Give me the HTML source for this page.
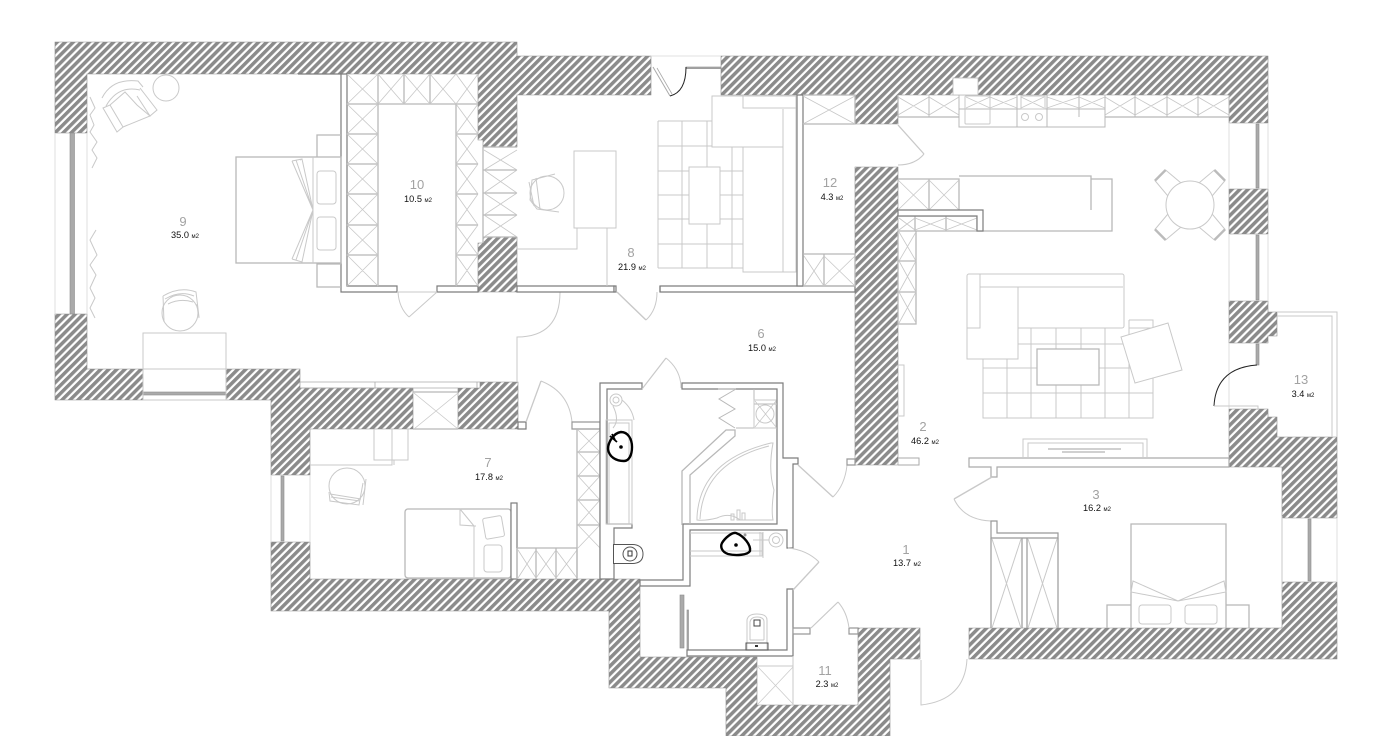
<!DOCTYPE html>
<html lang="ru"><head><meta charset="utf-8"><title>План квартиры</title>
<style>
html,body{margin:0;padding:0;background:#fff}
svg{display:block}
.h{fill:url(#hatch);stroke:#8c8c8c;stroke-width:.6}
.d{fill:#fff;stroke:#7d7d7d;stroke-width:1.2}
.dn{fill:none;stroke:#7d7d7d;stroke-width:1.2}
.f{fill:none;stroke:#c9c9c9;stroke-width:1}
.fw{fill:#fff;stroke:#c9c9c9;stroke-width:1}
.m{fill:none;stroke:#b8b8b8;stroke-width:1.3}
.t{fill:none;stroke:#d8d8d8;stroke-width:.8}
.g{fill:#aaa;stroke:#8c8c8c;stroke-width:.6}
.k{fill:none;stroke:#000;stroke-width:2.4}
.n{font:13px "Liberation Sans",sans-serif;fill:#a2a2a2;text-anchor:middle}
.a{font:9.2px "Liberation Sans",sans-serif;fill:#111;text-anchor:middle}
.a tspan{font-size:6px}
</style></head><body>
<svg width="1400" height="736" viewBox="0 0 1400 736" xmlns="http://www.w3.org/2000/svg">
<defs><pattern id="hatch" width="5.7" height="5.7" patternUnits="userSpaceOnUse" patternTransform="rotate(45)"><rect width="5.7" height="5.7" fill="#fff"/><rect width="3.5" height="5.7" fill="#8b8b8b"/></pattern></defs>
<rect width="1400" height="736" fill="#fff"/>

<!-- hatched walls -->
<path class="h" d="M55 42H517V56H651V95H517V147H483V140H478V74H87V133H55Z"/>
<path class="h" d="M55 314H87V369H143V400H55Z"/>
<path class="h" d="M226 369H300V388H413V429H310V475H271V400H226Z"/>
<path class="h" d="M458 388H480V382H518V429H458Z"/>
<path class="h" d="M478 243H483V237H517V292H478Z"/>
<path class="h" d="M271 542H310V579H640V657H757V705H858V628H920V659H890V736H726V688H609V611H271Z"/>
<path class="h" d="M721 56H1268V123H1229V95H898V124H855V95H721Z"/>
<rect x="953" y="78" width="25" height="17" fill="#fff" stroke="#bbb" stroke-width=".8"/>
<path class="h" d="M855 167H898V465H855Z"/>
<path class="h" d="M1229 189H1268V234H1229Z"/>
<path class="h" d="M1229 301H1268V312H1277V336H1268V343H1229Z"/>
<path class="h" d="M1229 409H1268V417H1277V437H1337V518H1282V467H1229Z"/>
<path class="h" d="M969 628H1282V582H1337V659H969Z"/>

<!-- windows -->
<path class="t" d="M55 133V314M87 133V314"/>
<rect class="g" x="70" y="133" width="4.5" height="181"/>
<path class="t" d="M143 400H226"/><rect class="g" x="143" y="392" width="83" height="3"/>
<path class="t" d="M271 475V542M310 475V542"/><rect class="g" x="281" y="476" width="3" height="65"/>
<path class="t" d="M651 56H721"/>
<rect class="g" x="686" y="67" width="35" height="1.6"/>
<path class="t" d="M1229 123V189M1268 123V189M1229 234V301M1268 234V301M1229 343V409"/>
<rect class="g" x="1256" y="124" width="3" height="64"/><rect class="g" x="1256" y="235" width="3" height="65"/><rect class="g" x="1256" y="344" width="3" height="21"/>
<path class="t" d="M1282 518V582M1337 518V582"/><rect class="g" x="1308" y="519" width="3" height="62"/>
<path class="f" d="M1277 312H1337V437M1277 316H1332V437"/>

<!-- room 10 wardrobes -->
<path class="d" d="M341 74V292H397V286H347V74Z"/>
<path class="d" d="M437 286H478V292H437Z"/>
<path class="d" d="M298 74H341" />
<path class="m" d="M347 104H378V286M378 104H478M456 104V286M404 74V104M430 74V104M347 134H378M347 164H378M347 194H378M347 225H378M347 255H378M456 134H478M456 164H478M456 194H478M456 225H478M456 255H478M378 74V104"/>
<path class="t" style="stroke:#c8c8c8" d="M347 74L378 104M378 74L347 104M378 74L404 104M404 74L378 104M404 74L430 104M430 74L404 104M430 74L456 104M456 74L430 104M456 74L478 104M478 74L456 104M347 104L378 134M378 104L347 134M347 134L378 164M378 134L347 164M347 164L378 194M378 164L347 194M347 194L378 225M378 194L347 225M347 225L378 255M378 225L347 255M347 255L378 286M378 255L347 286M456 104L478 134M478 104L456 134M456 134L478 164M478 134L456 164M456 164L478 194M478 164L456 194M456 194L478 225M478 194L456 225M456 225L478 255M478 225L456 255M456 255L478 286M478 255L456 286"/>
<path class="m" d="M483 147H517M483 237H517M483 170H517M483 193H517M483 215H517M483 147V243"/>
<path class="t" style="stroke:#c8c8c8" d="M484 150L517 170M517 150L484 170M484 170L517 193M517 170L484 193M484 193L517 215M517 193L484 215M484 215L517 237M517 215L484 237"/>
<path class="f" d="M397 292H437M437 292L409 317M409 317Q399 308 398 292"/>

<!-- room 9 furniture -->
<rect class="m" x="236" y="157" width="105" height="106"/>
<path class="f" d="M313 157V263M292 161L302 159L313 210L292 161M302 159L300 160M292 259L302 262L313 210L292 259M296 160L313 210M296 260L313 210"/>
<rect class="f" x="317" y="171" width="19" height="33" rx="3"/><rect class="f" x="317" y="217" width="19" height="33" rx="3"/>
<path class="m" d="M341 135H317V157M341 264H317V287H341"/>
<circle class="f" cx="166" cy="88" r="13"/>
<g class="f"><path d="M102 98Q112 78 138 81L143 87"/><path d="M106 106Q118 85 140 90"/><path d="M103 108L110 105L123 127L117 132Z"/><path d="M140 88L157 110L150 116L137 96"/><path d="M110 105L125 92L137 105L150 116L123 127"/></g>
<path class="f" d="M90 97L95 108L90 115L94 125L90 132L97 142L92 150L97 158L92 168M96 230L90 240L97 255L90 265L96 275L90 288L95 298L90 308L95 318"/>
<rect class="f" x="143" y="333" width="83" height="67"/><path class="f" d="M143 369H226"/>
<g class="f"><circle cx="180" cy="313" r="18"/><path d="M163 296Q180 286 196 292L199 317M163 296L164 322M165 299Q180 290 194 296M168 304Q180 298 193 302M197 304L199 318"/></g>

<!-- corridor/wall line -->
<path class="t" style="stroke:#aaa" d="M300 382H480M300 388H458M375 382V388M477 382V388"/>
<path class="f" d="M517 292H560Q560 337 517 337V382"/>

<!-- room 8 -->
<path class="d" d="M517 286H614V292H517ZM660 286H855V292H660Z"/>
<path class="d" d="M797 95H803V286H797Z"/>
<rect class="f" x="574" y="151" width="42" height="77"/>
<path class="f" d="M577 228V249H517M607 228V286"/>
<g class="f"><circle cx="547" cy="193" r="17"/><path d="M555 174L532 180L530 200L537 209L559 212M536 178L540 209M529 182L534 206"/></g>
<path class="f" d="M658 121H712M658 268H743M658 121V268M682 121V268M707 121V147M707 147V268M732 147V268M658 146H712M658 171H743M658 195H743M658 219H743M658 244H743"/>
<rect class="fw" x="689" y="167" width="31" height="57"/>
<path class="fw" d="M712 96H796V272H743V147H712Z"/>
<path class="f" d="M743 96V108H796M783 109V272M743 147H783M783 272H796"/>
<path class="f" style="stroke:#aaa" d="M653 67L670 96" /><path d="M657 68L672 94" fill="none" stroke="#aaa" stroke-width=".8"/>
<path d="M670 96Q686 92 686 67" fill="none" stroke="#222" stroke-width="1"/>
<path class="f" style="stroke-width:1.4" d="M617 292L646 320"/><path class="f" d="M646 320Q657 310 657 292"/>
<path class="d" d="M614 286H616V292H614ZM660 286V292"/>

<!-- room 12 -->
<path class="m" d="M803 95H855V124H803M803 254H855V286H803M824 254V286"/>
<path class="t" style="stroke:#c8c8c8" d="M803 96L855 124M855 96L803 124M804 256L824 286M824 256L804 286M824 256L855 286M855 256L824 286"/>
<path class="f" style="stroke-width:1.3" d="M898 125L924 154"/><path class="f" d="M924 154Q915 165 898 165"/>

<!-- kitchen -->
<path class="m" d="M898 117H959M1105 117H1229M898 95V117"/>
<path class="m" style="stroke-width:1" d="M929 95V117M959 95V127H1105V95M990 95V117M1017 95V127M1047 95V127M1079 95V117M1135 95V117M1167 95V117M1198 95V117M1229 95V117M959 109H1105"/>
<path class="t" style="stroke:#c8c8c8" d="M898 97L929 115M929 97L898 115M929 97L959 115M959 97L929 115M990 97L1017 108M1017 97L990 108M1047 97L1079 108M1079 97L1047 108M1079 97L1105 108M1105 97L1079 108M1105 97L1135 115M1135 97L1105 115M1135 97L1167 115M1167 97L1135 115M1167 97L1198 115M1198 97L1167 115M1198 97L1229 115M1229 97L1198 115M966 97L990 108M990 97L966 108M1021 97L1044 108M1044 97L1021 108"/>
<rect class="f" x="965" y="96" width="25" height="28" rx="1"/><rect class="f" x="1021" y="96" width="24" height="13"/><circle class="f" cx="1025" cy="117" r="3.5"/><circle class="f" cx="1039" cy="117" r="3.5"/>
<path class="m" d="M898 179H959V210M929 179V210M959 176H1091V210M1091 176V210M1091 179H1112V231H983M983 231H898M898 216H977V231M915 216V231M946 216V231M898 231V324H916V231M898 261H916M898 292H916"/>
<path class="t" style="stroke:#c8c8c8" d="M898 180L929 210M929 180L898 210M929 180L959 210M959 180L929 210M899 218L915 230M915 218L899 230M915 218L946 230M946 218L915 230M946 218L977 230M977 218L946 230M899 232L916 261M916 232L899 261M899 261L916 292M916 261L899 292M899 292L916 323M916 292L899 323"/>
<path class="d" d="M898 210H983V231H977V216H898Z"/>

<!-- dining -->
<g class="f">
<g transform="rotate(45 1190 205)"><path d="M1180.5 186L1182.5 163H1197.5L1199.5 186"/><path d="M1182.5 163H1197.5" stroke="#bbb" stroke-width="2.4"/></g>
<g transform="rotate(135 1190 205)"><path d="M1180.5 186L1182.5 163H1197.5L1199.5 186"/><path d="M1182.5 163H1197.5" stroke="#bbb" stroke-width="2.4"/></g>
<g transform="rotate(225 1190 205)"><path d="M1180.5 186L1182.5 163H1197.5L1199.5 186"/><path d="M1182.5 163H1197.5" stroke="#bbb" stroke-width="2.4"/></g>
<g transform="rotate(315 1190 205)"><path d="M1180.5 186L1182.5 163H1197.5L1199.5 186"/><path d="M1182.5 163H1197.5" stroke="#bbb" stroke-width="2.4"/></g>
</g>
<circle class="fw" cx="1190" cy="205" r="24"/>

<!-- living -->
<path class="f" d="M983 328V418H1153V328H1129M1007 328V418M1031 328V418M1056 328V418M1081 328V418M1105 328V418M1129 320V418M1129 320H1153V328M983 344H1153M983 368H1153M983 393H1153"/>
<rect class="fw" x="967" y="274" width="157" height="54" rx="2"/><path class="fw" d="M967 276V359H1018V287H1123"/>
<path class="f" d="M980 274V328H967M980 287H1123"/>
<rect class="fw" style="stroke:#b5b5b5;stroke-width:1.2" x="1037" y="349" width="62" height="36"/>
<path class="fw" d="M1121 337L1168 323L1182 370L1135 383Z"/>
<path class="f" d="M898 365H904V416H898"/>

<!-- TV & partition -->
<path class="d" style="stroke:#aaa" d="M969 458H1229V467H997V477H991V467H969Z"/>
<path class="f" d="M1023 457V439H1147V457M1028 457V443H1143V457"/>
<path d="M1048 449H1121M1062 452H1105" stroke="#b3b3b3" stroke-width="1.3" fill="none"/>

<!-- room 2 stubs -->
<path class="f" style="stroke:#aaa" d="M898 458H919V465H898"/>

<!-- room 3 -->
<path class="f" style="stroke-width:1.4" d="M992 477L954 499"/><path class="f" d="M954 499Q964 520 991 521"/>
<path class="d" style="stroke:#999" d="M991 521H997V533H1058V538H991Z"/>
<path class="d" style="fill:none;stroke:#999" d="M991 538V628M1022 538V628M1027 538V628M1058 538V628"/>
<path class="f" d="M992 539L1021 628M1021 539L992 628M1028 539L1057 628M1057 539L1028 628"/>
<path class="m" d="M1131 628V524H1226V628M1107 628V605H1131M1226 605H1249V628"/>
<path class="f" d="M1133 581L1178 601L1224 581L1226 592L1178 601L1131 592Z"/>
<rect class="f" x="1139" y="605" width="32" height="19" rx="3"/><rect class="f" x="1185" y="605" width="32" height="19" rx="3"/>
<path class="f" d="M1282 516V590"/>

<!-- balcony door -->
<path d="M1257 365Q1216 368 1214 406" fill="none" stroke="#222" stroke-width="1"/>
<path class="f" d="M1214 406H1258V410"/>

<!-- room 7 -->
<path class="m" d="M413 392H458M413 429H458"/>
<path class="t" style="stroke:#c8c8c8" d="M414 393L458 429M458 393L414 429M310 429"/>
<path class="f" d="M374 429V460H408V429M374 460H394M310 465H392V429M394 460V465"/>
<g class="f"><circle cx="347" cy="486" r="18"/><path d="M329 492L330 501L359 505L363 483M331 497L360 501M330 494L361 499M366 479L363 505"/></g>
<rect class="m" x="405" y="509" width="106" height="69" rx="3"/>
<path class="f" d="M460 509V525L474 526V578M460 525L476 526M460 509L474 526"/>
<rect class="f" x="484" y="517" width="19" height="21" rx="2" transform="rotate(-10 493 527)"/><rect class="f" x="484" y="545" width="18" height="27" rx="3"/>
<rect class="d" x="511" y="503" width="6" height="76"/>
<path class="m" d="M517 548H577V579M517 548V579M536 548V579M556 548V579"/>
<path class="t" style="stroke:#c8c8c8" d="M518 550L536 578M536 550L518 578M536 550L556 578M556 550L536 578M556 550L577 578M577 550L556 578"/>
<path class="d" d="M518 422H526V429H518Z"/>
<path class="f" style="stroke-width:1.3" d="M526 422L541 381"/><path class="f" d="M541 381Q569 392 572 422"/>
<path class="d" d="M572 422H600V429H572Z" style="stroke:#999"/>
<path class="m" d="M577 429V579M600 429V579M577 452H600M577 476H600M577 500H600M577 525H600"/>
<path class="t" style="stroke:#c8c8c8" d="M578 430L600 452M600 430L578 452M578 452L600 476M600 452L578 476M578 476L600 500M600 476L578 500M578 500L600 525M600 500L578 525M578 525L600 548M600 525L578 548"/>

<!-- baths -->
<path class="d" d="M600 383H642V389H607V524H632V528H614V579H600Z"/>
<path class="d" d="M682 383H783V458H798V464H793V548H787V530H690V586H640V580H683V524H777V389H682Z"/>
<rect class="f" x="606" y="420" width="26" height="104"/><rect class="f" x="609" y="423" width="20" height="101"/>
<path class="f" style="stroke-width:1.2" d="M642 389L666 358"/><path class="f" d="M666 358Q681 370 681 388"/>
<g class="f"><circle cx="616" cy="400" r="6"/><circle cx="616" cy="400" r="3"/><path d="M613 406Q620 420 613 428M622 400Q632 408 634 420"/></g>
<path class="k" d="M621 432C628 432 632 439 632 447C632 455 629 461 624 461C616 461 609 457 608 449C608 443 613 433 621 432Z"/>
<circle cx="621" cy="447" r="1.8" fill="#000"/><path d="M610 436L617 442M612 434L615 440" stroke="#000" stroke-width="1.8" fill="none"/>
<path d="M613.500 544.500H633Q643 545 643 554Q643 563 633 563.500H613.500Z" fill="#fff" stroke="#555"/><ellipse cx="630" cy="554" rx="7" ry="7" fill="none" stroke="#555"/><rect x="628" y="551" width="4" height="5" fill="none" stroke="#333"/>
<!-- bath tub + closet -->
<path class="m" d="M682 525V471L726 430H735L735 436L690 475V524"/>
<path class="m" style="stroke-width:1" d="M736 428H777M754 389V428M718 389L736 389M736 389L719 399L735 409L719 418L735 428M754 404H777"/>
<rect class="f" x="754" y="400" width="22" height="28" /><circle class="f" cx="765" cy="414" r="9"/><path class="t" style="stroke:#c8c8c8" d="M755 401L776 427M776 401L755 427"/>
<path class="f" d="M697 520V517Q700 460 771 443H773Q768 470 774 490Q771 510 773 520H740Q730 512 717 518Q705 521 697 520Z"/>
<path class="f" d="M700 519Q703 463 769 446"/>
<rect class="f" x="731" y="514" width="3" height="6"/><rect class="f" x="737" y="510" width="3" height="10"/><rect class="f" x="742" y="513" width="3" height="7"/>
<path class="f" d="M690 533H762V556H690M760 532V556M763 532V558M690 551H763"/>
<g class="f"><circle cx="776" cy="540" r="7"/><circle cx="776" cy="540" r="3.5"/><path d="M769 540H753"/></g>
<circle cx="745" cy="535" r="1.5" fill="#999"/>
<path class="k" d="M736 533C744 536 751 545 750 551C748 555 736 556 728 554C722 552 720 547 722 543C725 538 732 532 736 533Z"/>
<circle cx="736" cy="545" r="1.8" fill="#000"/>
<rect class="g" x="680" y="595" width="4" height="53"/><rect class="g" x="687" y="610" width="1.5" height="41"/>
<path class="d" d="M787 589H793V656H687V650H787Z"/>
<path class="f" style="stroke-width:1.3" d="M793 590L819 562"/><path class="f" d="M819 562Q807 550 788 548"/>
<path class="f" d="M747 650V620Q748 614 757 614Q767 614 767 620V650M750 640V622Q751 617 757 617Q764 617 764 622V640M750 640H764"/>
<path d="M746 643H768V650H746Z" fill="none" stroke="#555"/><rect x="754" y="620" width="6" height="6" fill="none" stroke="#444"/><rect x="755" y="645" width="3" height="2" fill="#333"/>
<path class="f" style="stroke-width:1.3" d="M798 465L833 497"/><path class="f" d="M833 497Q845 485 847 465"/>
<path class="d" style="stroke:#999" d="M847 459H855V465H847Z"/>
<!-- 11 -->
<path class="d" style="stroke:#999" d="M793 628H810V634H793ZM849 628H858V634H849Z"/>
<path class="f" style="stroke-width:1.2" d="M811 628L838 602"/><path class="f" d="M838 602Q847 612 849 628"/>
<path class="f" d="M757 666H793M793 656V705"/>
<path class="t" style="stroke:#ccc" d="M758 667L793 704M793 667L758 704"/>
<!-- entry door -->
<path class="f" d="M921 660V705Q965 700 967 659"/>

<!-- labels -->
<text class="n" x="183" y="226">9</text><text class="a" x="185" y="238">35.0 <tspan>м2</tspan></text>
<text class="n" x="417" y="189">10</text><text class="a" x="418" y="202">10.5 <tspan>м2</tspan></text>
<text class="n" x="631" y="257">8</text><text class="a" x="632" y="270">21.9 <tspan>м2</tspan></text>
<text class="n" x="830" y="187">12</text><text class="a" x="832" y="200">4.3 <tspan>м2</tspan></text>
<text class="n" x="761" y="338">6</text><text class="a" x="762" y="351">15.0 <tspan>м2</tspan></text>
<text class="n" x="923" y="431">2</text><text class="a" x="925" y="444">46.2 <tspan>м2</tspan></text>
<text class="n" x="1301" y="384">13</text><text class="a" x="1303" y="397">3.4 <tspan>м2</tspan></text>
<text class="n" x="1096" y="499">3</text><text class="a" x="1097" y="511">16.2 <tspan>м2</tspan></text>
<text class="n" x="488" y="467">7</text><text class="a" x="489" y="480">17.8 <tspan>м2</tspan></text>
<text class="n" x="906" y="554">1</text><text class="a" x="907" y="566">13.7 <tspan>м2</tspan></text>
<text class="n" x="825" y="675">11</text><text class="a" x="827" y="687">2.3 <tspan>м2</tspan></text>
</svg>
</body></html>
